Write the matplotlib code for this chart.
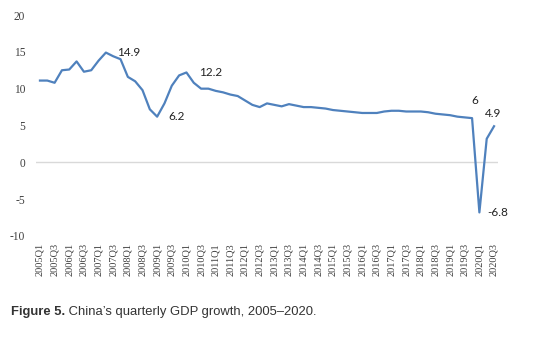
import matplotlib
matplotlib.use("Agg")
import matplotlib.pyplot as plt

plt.rcParams["axes.unicode_minus"] = False

# quarterly GDP growth (%), 2005Q1 .. 2020Q3
years = list(range(2005, 2021))
growth = [
    11.1, 11.1, 10.8, 12.5,   # 2005
    12.6, 13.7, 12.3, 12.5,   # 2006
    13.8, 14.9, 14.4, 14.0,   # 2007
    11.6, 11.0, 9.8, 7.2,     # 2008
    6.2, 8.0, 10.4, 11.8,     # 2009
    12.2, 10.8, 10.0, 10.0,   # 2010
    9.7, 9.5, 9.2, 9.0,       # 2011
    8.4, 7.8, 7.5, 8.0,       # 2012
    7.8, 7.6, 7.9, 7.7,       # 2013
    7.5, 7.5, 7.4, 7.3,       # 2014
    7.1, 7.0, 6.9, 6.8,       # 2015
    6.7, 6.7, 6.7, 6.9,       # 2016
    7.0, 7.0, 6.9, 6.9,       # 2017
    6.9, 6.8, 6.6, 6.5,       # 2018
    6.4, 6.2, 6.1, 6.0,       # 2019
    -6.8, 3.2, 4.9,           # 2020
]
quarters = ["%dQ%d" % (y, q) for y in years for q in range(1, 5)][:len(growth)]

# labelled points: (index, text, offset in points, ha, va)
callouts = [
    (9, "14.9", (8, 0), "left", "center"),
    (16, "6.2", (8, 0), "left", "center"),
    (20, "12.2", (9, 0), "left", "center"),
    (59, "6", (2, 9), "center", "bottom"),
    (60, "-6.8", (6, 0), "left", "center"),
    (62, "4.9", (-1, 5), "center", "bottom"),
]

fig = plt.figure(figsize=(5.5, 3.4), dpi=100, facecolor="white")
ax = fig.add_axes([36.3 / 550, 1 - 236 / 340, 461.4 / 550, 221 / 340])

x = list(range(len(growth)))
ax.axhline(0, color="#d9d9d9", lw=1.0, zorder=1)
ax.plot(x, growth, color="#4f81bd", lw=1.6, zorder=2)

for i, txt, off, ha, va in callouts:
    ax.annotate(txt, (i, growth[i]), xytext=off, textcoords="offset points",
                ha=ha, va=va, fontsize=8.5, family="Lato", color="#222222")

ax.set_xlim(-0.5, len(growth) - 0.5)
ax.set_ylim(-10, 20)
ax.set_yticks([-10, -5, 0, 5, 10, 15, 20])
ax.set_xticks(x[::2])
ax.set_xticklabels(quarters[::2], rotation=90, family="Liberation Serif",
                   fontsize=7.5, color="#404040")
for lab in ax.get_yticklabels():
    lab.set_family("Liberation Serif")
    lab.set_fontsize(8.3)
    lab.set_color("#404040")
ax.tick_params(axis="both", length=0)
ax.tick_params(axis="y", pad=8)
ax.tick_params(axis="x", pad=5)
for s in ax.spines.values():
    s.set_visible(False)

# caption: bold figure number followed by regular text
bold = fig.text(11 / 550, 1 - 312 / 340, "Figure 5.", fontsize=9.4, fontweight="bold",
                family="Liberation Sans", color="#333333", va="center")
fig.canvas.draw()
bb = bold.get_window_extent(fig.canvas.get_renderer())
fig.text(bb.x1 / fig.bbox.width, 1 - 312 / 340, " China\u2019s quarterly GDP growth, 2005\u20132020.",
         fontsize=9.4, family="Liberation Sans", color="#333333", va="center")

fig.savefig("out.png", dpi=100)
